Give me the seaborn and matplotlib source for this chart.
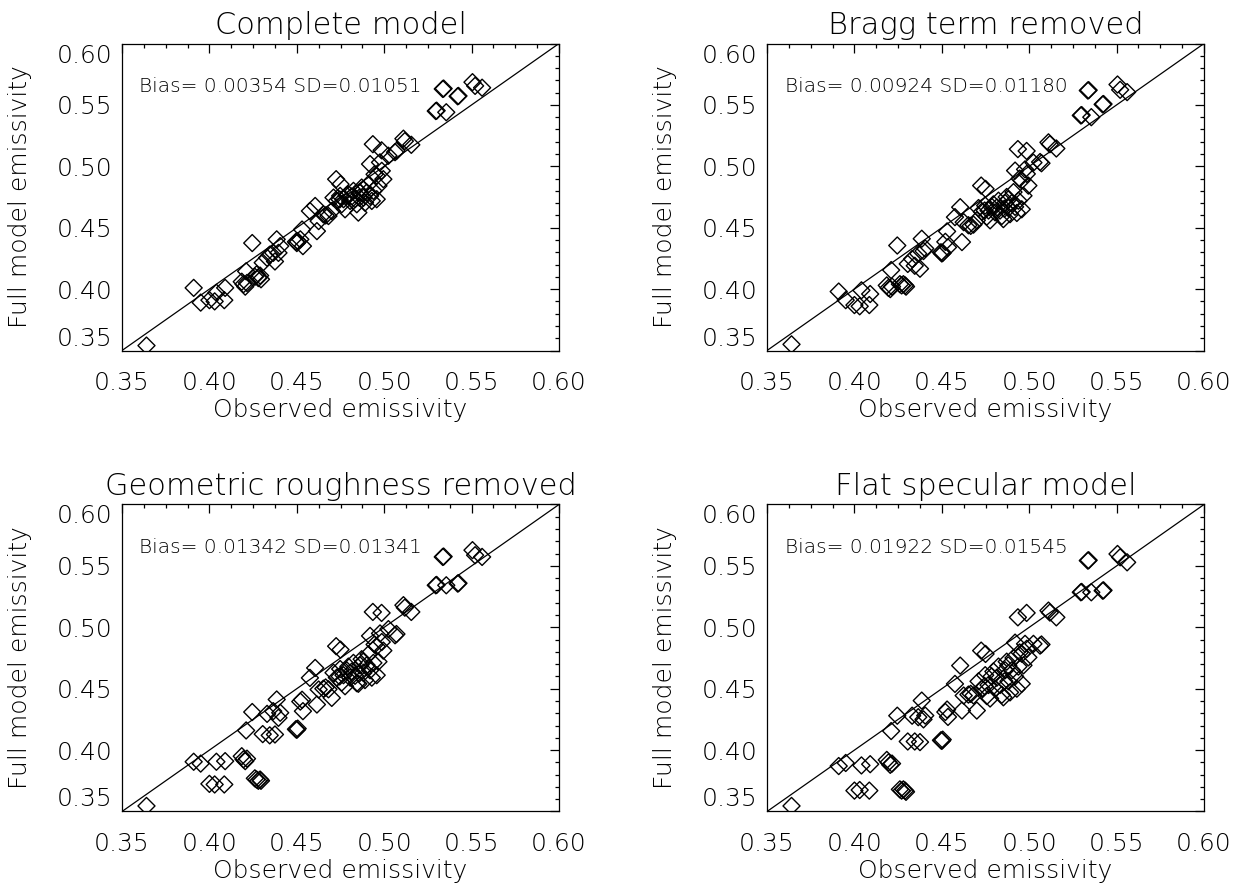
import matplotlib
matplotlib.use("Agg")
import matplotlib.pyplot as plt
from matplotlib.ticker import MultipleLocator, FormatStrFormatter
import pandas as pd
import seaborn as sns

# Observed emissivity (shared by every panel)
observed = [
    0.3640, 0.3910, 0.3950, 0.4000, 0.4030, 0.4040, 0.4090, 0.4085, 0.4185, 0.4195,
    0.4205, 0.4215, 0.4260, 0.4270, 0.4280, 0.4290, 0.4295, 0.4245, 0.4210, 0.4305,
    0.4330, 0.4345, 0.4365, 0.4375, 0.4385, 0.4395, 0.4405, 0.4495, 0.4500, 0.4505,
    0.4520, 0.4535, 0.4530, 0.4575, 0.4605, 0.4615, 0.4625, 0.4652, 0.4665, 0.4681,
    0.4700, 0.4725, 0.4750, 0.4710, 0.4729, 0.4748, 0.4757, 0.4767, 0.4776, 0.4795,
    0.4805, 0.4824, 0.4833, 0.4843, 0.4852, 0.4862, 0.4871, 0.4881, 0.4890, 0.4900,
    0.4910, 0.4919, 0.4929, 0.4938, 0.4957, 0.4967, 0.4785, 0.4815, 0.4858, 0.4745,
    0.4880, 0.4919, 0.4957, 0.4995, 0.4986, 0.4976, 0.4945, 0.5024, 0.4935, 0.4985,
    0.5062, 0.5070, 0.5110, 0.5118, 0.5155, 0.5295, 0.5300, 0.5355, 0.5335, 0.5340,
    0.5420, 0.5425, 0.5505, 0.5520, 0.5560,
]

# Modelled emissivity for each model variant
complete_model = [
    0.3540, 0.4010, 0.3890, 0.3910, 0.3900, 0.3970, 0.4010, 0.3910, 0.4060, 0.4040,
    0.4020, 0.4050, 0.4100, 0.4120, 0.4090, 0.4110, 0.4080, 0.4375, 0.4145, 0.4215,
    0.4255, 0.4280, 0.4295, 0.4225, 0.4405, 0.4295, 0.4350, 0.4385, 0.4375, 0.4390,
    0.4405, 0.4350, 0.4485, 0.4636, 0.4677, 0.4472, 0.4554, 0.4609, 0.4600, 0.4595,
    0.4636, 0.4895, 0.4854, 0.4745, 0.4718, 0.4759, 0.4691, 0.4732, 0.4650, 0.4772,
    0.4718, 0.4800, 0.4732, 0.4691, 0.4623, 0.4786, 0.4827, 0.4745, 0.4704, 0.4786,
    0.4854, 0.4759, 0.4718, 0.4800, 0.4732, 0.4841, 0.4762, 0.4755, 0.4745, 0.4730,
    0.4810, 0.5018, 0.4923, 0.4895, 0.4963, 0.5032, 0.4935, 0.5086, 0.5180, 0.5130,
    0.5115, 0.5125, 0.5225, 0.5205, 0.5175, 0.5450, 0.5453, 0.5440, 0.5630, 0.5633,
    0.5570, 0.5573, 0.5685, 0.5655, 0.5640,
]

bragg_removed = [
    0.3550, 0.3980, 0.3910, 0.3870, 0.3860, 0.3990, 0.3960, 0.3870, 0.4030, 0.4010,
    0.4000, 0.4020, 0.4040, 0.4030, 0.4040, 0.4030, 0.4020, 0.4355, 0.4155, 0.4205,
    0.4245, 0.4190, 0.4288, 0.4166, 0.4410, 0.4310, 0.4330, 0.4300, 0.4290, 0.4295,
    0.4385, 0.4340, 0.4470, 0.4586, 0.4667, 0.4383, 0.4545, 0.4520, 0.4515, 0.4525,
    0.4560, 0.4843, 0.4816, 0.4660, 0.4630, 0.4680, 0.4590, 0.4640, 0.4560, 0.4690,
    0.4625, 0.4720, 0.4640, 0.4595, 0.4570, 0.4700, 0.4750, 0.4660, 0.4610, 0.4700,
    0.4790, 0.4670, 0.4620, 0.4720, 0.4650, 0.4760, 0.4670, 0.4665, 0.4655, 0.4640,
    0.4730, 0.4965, 0.4885, 0.4843, 0.4938, 0.4975, 0.4900, 0.5030, 0.5140, 0.5125,
    0.5035, 0.5025, 0.5195, 0.5180, 0.5145, 0.5414, 0.5417, 0.5400, 0.5617, 0.5620,
    0.5504, 0.5507, 0.5666, 0.5623, 0.5604,
]

roughness_removed = [
    0.3545, 0.3905, 0.3890, 0.3725, 0.3720, 0.3905, 0.3910, 0.3720, 0.3950, 0.3925,
    0.3910, 0.3930, 0.3770, 0.3760, 0.3750, 0.3760, 0.3750, 0.4310, 0.4160, 0.4130,
    0.4295, 0.4120, 0.4317, 0.4127, 0.4412, 0.4263, 0.4304, 0.4170, 0.4165, 0.4175,
    0.4395, 0.4317, 0.4410, 0.4588, 0.4669, 0.4371, 0.4493, 0.4500, 0.4510, 0.4495,
    0.4425, 0.4846, 0.4818, 0.4630, 0.4590, 0.4660, 0.4550, 0.4610, 0.4520, 0.4680,
    0.4590, 0.4710, 0.4605, 0.4545, 0.4540, 0.4690, 0.4740, 0.4630, 0.4570, 0.4690,
    0.4780, 0.4650, 0.4590, 0.4710, 0.4610, 0.4720, 0.4650, 0.4640, 0.4625, 0.4600,
    0.4720, 0.4930, 0.4845, 0.4810, 0.4880, 0.4950, 0.4860, 0.4985, 0.5125, 0.5117,
    0.4935, 0.4945, 0.5180, 0.5160, 0.5125, 0.5342, 0.5345, 0.5342, 0.5573, 0.5576,
    0.5356, 0.5359, 0.5628, 0.5587, 0.5573,
]

flat_specular = [
    0.3545, 0.3870, 0.3895, 0.3670, 0.3675, 0.3875, 0.3885, 0.3670, 0.3920, 0.3900,
    0.3880, 0.3890, 0.3680, 0.3670, 0.3680, 0.3670, 0.3660, 0.4280, 0.4155, 0.4070,
    0.4280, 0.4070, 0.4268, 0.4065, 0.4403, 0.4250, 0.4281, 0.4080, 0.4075, 0.4085,
    0.4310, 0.4270, 0.4330, 0.4539, 0.4688, 0.4322, 0.4444, 0.4452, 0.4458, 0.4445,
    0.4322, 0.4810, 0.4783, 0.4560, 0.4500, 0.4610, 0.4440, 0.4530, 0.4420, 0.4640,
    0.4500, 0.4680, 0.4530, 0.4450, 0.4430, 0.4650, 0.4720, 0.4560, 0.4470, 0.4650,
    0.4750, 0.4600, 0.4500, 0.4680, 0.4540, 0.4690, 0.4600, 0.4590, 0.4560, 0.4520,
    0.4690, 0.4875, 0.4785, 0.4755, 0.4825, 0.4865, 0.4795, 0.4865, 0.5081, 0.5117,
    0.4851, 0.4860, 0.5136, 0.5120, 0.5081, 0.5285, 0.5288, 0.5285, 0.5543, 0.5546,
    0.5298, 0.5301, 0.5597, 0.5570, 0.5529,
]

panel_titles = [
    "Complete model",
    "Bragg term removed",
    "Geometric roughness removed",
    "Flat specular model",
]
bias_values = ["0.00354", "0.00924", "0.01342", "0.01922"]
sd_values = ["0.01051", "0.01180", "0.01341", "0.01545"]
tick_values = [0.35, 0.40, 0.45, 0.50, 0.55, 0.60]

sns.set_theme(style="white")
plt.rcParams["font.family"] = ["DejaVu Sans"]
plt.rcParams["font.weight"] = "light"
plt.rcParams["axes.labelweight"] = "light"
plt.rcParams["axes.titleweight"] = "light"
plt.rcParams["text.color"] = "black"
plt.rcParams["axes.labelcolor"] = "black"
plt.rcParams["axes.titlecolor"] = "black"
plt.rcParams["xtick.color"] = "black"
plt.rcParams["ytick.color"] = "black"
plt.rcParams["axes.edgecolor"] = "black"
plt.rcParams["axes.linewidth"] = 0.9

df = pd.DataFrame({
    "observed": observed,
    "complete": complete_model,
    "bragg": bragg_removed,
    "roughness": roughness_removed,
    "flat": flat_specular,
})
model_cols = ["complete", "bragg", "roughness", "flat"]

fig = plt.figure(figsize=(12.45, 8.86), dpi=100)
col_x = [0.0980, 0.6161]
row_y = [0.6044, 0.0841]
ax_w, ax_h = 0.3510, 0.3465

diamond = (4, 0, 0)

for i, col in enumerate(model_cols):
    ax = fig.add_axes([col_x[i % 2], row_y[i // 2], ax_w, ax_h])
    sns.scatterplot(
        data=df, x="observed", y=col, ax=ax,
        marker=diamond, s=150, facecolor="none", edgecolor="black",
        linewidth=1.0, legend=False, zorder=3,
    )
    ax.axline((tick_values[0], tick_values[0]), slope=1.0,
              color="black", linewidth=0.9, zorder=2)

    ax.set_xlim(tick_values[0], tick_values[-1])
    ax.set_ylim(tick_values[0], tick_values[-1])
    ax.set_xticks(tick_values)
    ax.set_yticks(tick_values)
    ax.xaxis.set_minor_locator(MultipleLocator(0.0125))
    ax.yaxis.set_minor_locator(MultipleLocator(0.01))
    ax.xaxis.set_major_formatter(FormatStrFormatter("%.2f"))
    ax.yaxis.set_major_formatter(FormatStrFormatter("%.2f"))

    ax.tick_params(which="both", direction="in", top=True, right=True,
                   colors="black", width=0.9)
    ax.tick_params(which="major", length=6.5, labelsize=18)
    ax.tick_params(which="minor", length=3.2)
    ax.tick_params(axis="x", which="major", pad=15)
    ax.tick_params(axis="y", which="major", pad=7)

    ylabels = ax.get_yticklabels()
    ylabels[0].set_va("bottom")
    ylabels[-1].set_va("top")

    ax.set_title(panel_titles[i], fontsize=22, pad=6.5, color="black")
    ax.set_xlabel("Observed emissivity", fontsize=18)
    ax.set_ylabel("Full model emissivity", fontsize=18)
    ax.xaxis.set_label_coords(0.5, -0.195)
    ax.xaxis.label.set_va("center")
    ax.yaxis.set_label_coords(-0.233, 0.5)
    ax.yaxis.label.set_va("center")

    ax.text(0.04, 0.86, f"Bias= {bias_values[i]} SD={sd_values[i]}",
            transform=ax.transAxes, fontsize=14.5, va="center", ha="left",
            color="black")

    for spine in ax.spines.values():
        spine.set_visible(True)
        spine.set_color("black")
        spine.set_linewidth(0.9)

fig.savefig("out.png", dpi=100, facecolor="white")
